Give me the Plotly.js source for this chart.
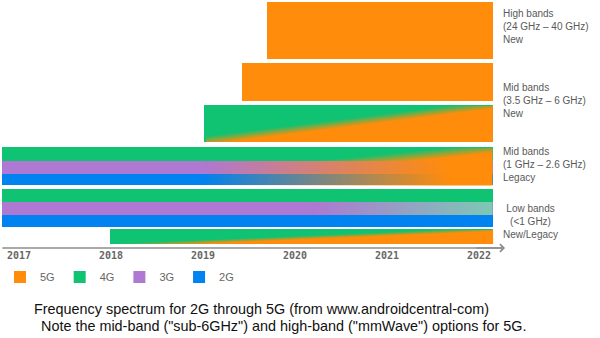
<!DOCTYPE html>
<html><head><meta charset="utf-8">
<script src="https://cdn.plot.ly/plotly-3.0.1.min.js"></script>
<style>html,body{margin:0;padding:0;background:#fff}#chart{width:600px;height:338px}</style>
</head><body><div id="chart"></div>
<script>
// ---------------- data ----------------
const years = [2017, 2018, 2019, 2020, 2021, 2022];
const techs = ['5G', '4G', '3G', '2G'];
const bandLabels = [
  'High bands<br>(24 GHz – 40 GHz)<br>New',
  'Mid bands<br>(3.5 GHz – 6 GHz)<br>New',
  'Mid bands<br>(1 GHz – 2.6 GHz)<br>Legacy',
  'Low bands<br>(&lt;1 GHz)<br>New/Legacy'
];
// spectrum rows, top to bottom
const rowBand  = [0, 1, 1, 2, 2, 2, 3, 3, 3, 3];
const rowTech  = ['5G', '5G', '4G', '4G', '3G', '2G', '4G', '3G', '2G', '4G'];
const rowStart = [2019.70, 2019.42, 2019.01, 2016.82, 2016.82, 2016.82, 2016.82, 2016.82, 2016.82, 2017.99];
const rowEnd   = [2022.15, 2022.15, 2022.15, 2022.15, 2022.15, 2022.15, 2022.15, 2022.15, 2022.15, 2022.15];
// hand-over of a row to a newer use: share of the new use at the row corners
const fadeRow    = [2, 3, 4, 5, 7, 9];
const fadeTarget = ['5G', '5G', '5G', '5G', 'refarmed', '5G'];
const fadeTL = [-3.41, -4.38, -0.79, -0.79, -1.68, -3.50];
const fadeTR = [0.71, 0.53, 1.17, 1.17, 1.0, 0.76];
const fadeBL = [0.63, -3.18, -0.79, -0.79, -1.68, -0.06];
const fadeBR = [4.76, 1.73, 1.17, 1.17, 1.0, 4.20];

// ---------------- styling / geometry ----------------
const techColor = {'5G': '#FF8C0A', '4G': '#0FC373', '3G': '#AF78D2', '2G': '#0082F0', 'refarmed': '#7DC8B4'};
const laneTop    = [2, 63, 105, 147, 161, 173.5, 189, 202, 215, 229];
const laneBottom = [59, 101, 142, 161, 173.5, 185, 202, 215, 227, 244];
const labelY = [26, 100, 164, 221.5];
const PLOT_H = 248;

function rgba(hex, a) {
  const n = parseInt(hex.slice(1), 16);
  return 'rgba(' + (n >> 16) + ',' + ((n >> 8) & 255) + ',' + (n & 255) + ',' + a + ')';
}

const traces = [];
techs.forEach(t => {
  const idx = rowTech.map((r, i) => r === t ? i : -1).filter(i => i >= 0);
  traces.push({
    type: 'bar', orientation: 'h', name: t,
    y: idx.map(i => (laneTop[i] + laneBottom[i]) / 2),
    width: idx.map(i => laneBottom[i] - laneTop[i]),
    base: idx.map(i => rowStart[i]),
    x: idx.map(i => rowEnd[i] - rowStart[i]),
    marker: {color: techColor[t], line: {width: 0}},
    hoverinfo: 'skip', xaxis: 'x', yaxis: 'y'
  });
});

// smooth heatmap overlay; grid values placed so that the interpolation across the
// row reproduces the corner shares (cells are interpolated by index)
function bil(tl, tr, bl, br, u, v) {
  return tl * (1 - u) * (1 - v) + tr * u * (1 - v) + bl * (1 - u) * v + br * u * v;
}
const us = [-0.5, 0.5, 1.5], vs = [-0.5, 0.5, 1.5];
const ex = 0.02, ey = 1;
fadeRow.forEach((r, k) => {
  const s = rowStart[r], e = rowEnd[r], t = laneTop[r], b = laneBottom[r];
  const col = techColor[fadeTarget[k]];
  traces.push({
    type: 'heatmap', xaxis: 'x', yaxis: 'y2',
    x: [s, s + ex, e - ex, e],
    y: [t, t + ey, b - ey, b],
    z: vs.map(v => us.map(u => bil(fadeTL[k], fadeTR[k], fadeBL[k], fadeBR[k], u, v))),
    zmin: 0, zmax: 1, zsmooth: 'best',
    colorscale: [[0, rgba(col, 0)], [1, rgba(col, 1)]],
    showscale: false, hoverinfo: 'skip', showlegend: false
  });
});

const annotations = bandLabels.map((txt, i) => {
  const low = i === 3;
  return {
    xref: 'paper', yref: 'paper',
    x: low ? 530 / 600 : 501 / 600, xanchor: low ? 'center' : 'left',
    y: 1 - labelY[i] / PLOT_H, yanchor: 'middle',
    text: txt, align: low ? 'center' : 'left', showarrow: false,
    font: {family: 'Liberation Sans, Arial, sans-serif', size: 10, color: '#595959'}
  };
});
// axis arrow head
annotations.push({
  xref: 'x', yref: 'paper', x: 2022.283, y: 0, ax: -30, ay: 0, axref: 'pixel', ayref: 'pixel',
  text: '', showarrow: true, arrowhead: 4, arrowsize: 1, arrowwidth: 1.5, arrowcolor: '#8c8c8c', standoff: 0
});
// caption
annotations.push({
  xref: 'paper', yref: 'paper', x: 32 / 600, y: 1 - 309 / PLOT_H, xanchor: 'left', yanchor: 'middle',
  text: 'Frequency spectrum for 2G through 5G (from www.androidcentral-com)', showarrow: false,
  font: {family: 'Liberation Sans, Arial, sans-serif', size: 14.4, color: '#111'}
});
annotations.push({
  xref: 'paper', yref: 'paper', x: 39 / 600, y: 1 - 326 / PLOT_H, xanchor: 'left', yanchor: 'middle',
  text: 'Note the mid-band ("sub-6GHz") and high-band ("mmWave") options for 5G.', showarrow: false,
  font: {family: 'Liberation Sans, Arial, sans-serif', size: 14.4, color: '#111'}
});

const layout = {
  width: 600, height: 338,
  margin: {l: 0, r: 0, t: 0, b: 338 - PLOT_H, pad: 0},
  paper_bgcolor: '#fff', plot_bgcolor: 'rgba(0,0,0,0)',
  barmode: 'overlay', bargap: 0,
  xaxis: {
    range: [2017 - 19 / 92, 2017 + 581 / 92], tickvals: years, ticktext: years.map(String),
    showgrid: false, zeroline: false, showline: false, ticks: '', fixedrange: true,
    tickfont: {family: 'DejaVu Sans Mono, monospace', size: 10, color: '#666', weight: 'bold'}
  },
  yaxis: {range: [PLOT_H, 0], visible: false, fixedrange: true},
  yaxis2: {range: [PLOT_H, 0], visible: false, overlaying: 'y', fixedrange: true},
  showlegend: true,
  legend: {
    orientation: 'h', x: 0, xanchor: 'left', y: 1 - 277 / PLOT_H, yanchor: 'middle',
    font: {family: 'Liberation Sans, Arial, sans-serif', size: 11, color: '#666'},
    traceorder: 'normal', bgcolor: 'rgba(0,0,0,0)'
  },
  shapes: [{
    type: 'line', xref: 'x', yref: 'paper', x0: 2016.82, x1: 2022.26, y0: 0, y1: 0,
    line: {color: '#8c8c8c', width: 1.5}
  }],
  annotations: annotations
};

Plotly.newPlot('chart', traces, layout, {staticPlot: true, displayModeBar: false});
</script></body></html>
